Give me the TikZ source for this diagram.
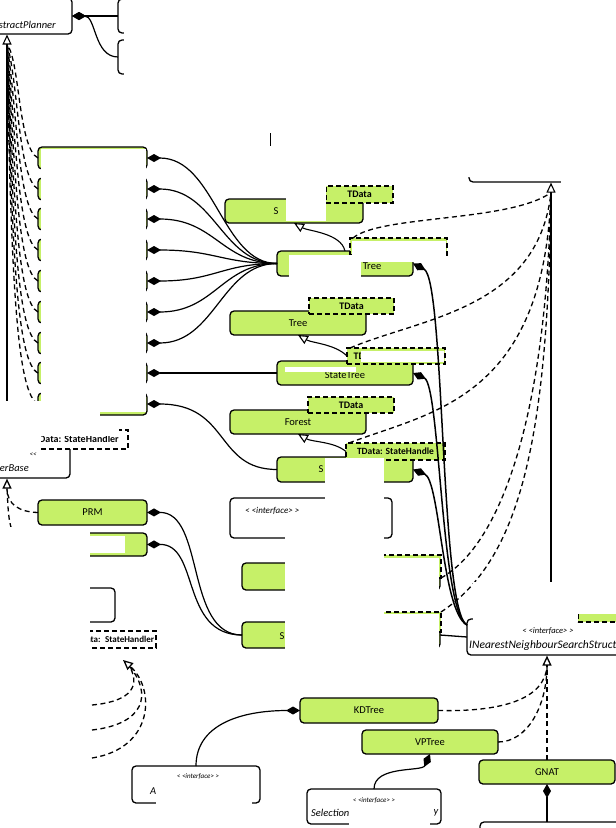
\documentclass[tikz,border=0pt]{standalone}
\usepackage{fontspec}
\setmainfont{Carlito}
\usetikzlibrary{arrows.meta}
\definecolor{G}{RGB}{198,240,104}
\begin{document}
\begin{tikzpicture}[x=1pt,y=-1pt,
 cls/.style={draw,line width=1.3pt,rounded corners=4pt,fill=G,inner sep=0pt,outer sep=0pt,font=\fontsize{10.5}{12}\selectfont},
 tpl/.style={draw,dash pattern=on 5pt off 3pt,line width=1.3pt,fill=G,inner sep=0pt,outer sep=0pt,font=\bfseries\fontsize{10}{11}\selectfont},
 ifc/.style={draw,line width=1.3pt,rounded corners=4pt,fill=white,inner sep=0pt,outer sep=0pt},
 lbl/.style={inner sep=0pt,font=\fontsize{10.5}{12}\selectfont},
 ilbl/.style={inner sep=0pt,font=\itshape\fontsize{10.5}{12}\selectfont},
 ster/.style={inner sep=0pt,font=\itshape\fontsize{7}{8}\selectfont},
 comp/.style={{Diamond[length=14pt,width=8pt]}-,line width=1.2pt},
 gen/.style={-{Triangle[open,length=10pt,width=9pt,fill=white]},line width=1.1pt},
 dep/.style={line width=1.3pt,dash pattern=on 5pt off 3.5pt},
 occl/.style={fill=white,draw=none}]
\fill[white] (0,0) rectangle (616,828);
\useasboundingbox (0,0) rectangle (616,828);

% ---------- coordinates for arrow tips ----------
\coordinate (t1) at (7,34.5);
\coordinate (t1b) at (7,44.5);
\coordinate (t2) at (7,478.6);
\coordinate (t2b) at (7,488.6);
\coordinate (t3) at (551,182.6);
\coordinate (t3b) at (551,192.6);
\coordinate (t4) at (547,655.6);
\coordinate (t4b) at (547,665.6);
\coordinate (t5) at (123,660);
\coordinate (t5b) at (130,667);
\coordinate (h1) at (92,705);
\coordinate (h2) at (92,730);
\coordinate (h3) at (92,758);

% ---------- nodes ----------
\node[ifc,minimum width=102,minimum height=36] (AP) at (21,16) {};
\node[ilbl,anchor=east] (APt) at (56,25) {AbstractPlanner};
\node[ifc,minimum width=142,minimum height=34] (R1) at (189,16) {};
\node[ifc,minimum width=142,minimum height=34] (R2) at (189,57) {};

\foreach \i/\y in {1/158,2/189,3/219,4/250,5/281,6/312,7/343,8/373,9/404}
  \node[cls,minimum width=109,minimum height=22] (C\i) at (92.5,\y) {};

\node[ifc,minimum width=90,minimum height=63] (Base) at (25,446.5) {};
\node[tpl,fill=white,minimum width=103,minimum height=19] (BT) at (76.5,439.5) {TData: StateHandler};
\node[ilbl,anchor=east] (Bname) at (29,468) {PlannerBase};
\node[ster] (Bst) at (33,455) {<{}<};

\node[cls,minimum width=109,minimum height=25] (PRM) at (92.5,512.5) {PRM};
\node[cls,minimum width=109,minimum height=23] (PRM2) at (92.5,544.5) {};
\node[ifc,minimum width=85,minimum height=34] (W1) at (72.5,605) {};
\node[tpl,fill=white,minimum width=96,minimum height=17,font=\bfseries\fontsize{9}{10}\selectfont,text width=92,align=right] (BT2) at (108,639.5) {TData: StateHandler};

\node[cls,minimum width=138,minimum height=24] (A) at (294,211) {};
\node[lbl] (At) at (276,211) {S};
\node[tpl,minimum width=67,minimum height=17] (TA) at (359.5,194.5) {TData};

\node[cls,minimum width=136,minimum height=25] (B) at (345,263.5) {};
\node[lbl] (Bt) at (372,266.5) {Tree};
\node[tpl,minimum width=97,minimum height=17] (TB) at (398.5,246.5) {};

\node[cls,minimum width=136,minimum height=24] (Tree) at (298,323) {Tree};
\node[tpl,minimum width=85,minimum height=16] (TTree) at (351.5,306) {TData};

\node[cls,minimum width=136,minimum height=24] (C) at (345,373) {};
\node[lbl] (Ct) at (345,375) {StateTree};
\node[tpl,minimum width=98,minimum height=16] (TC) at (396,356) {TData: StateHandler};

\node[cls,minimum width=136,minimum height=24] (Forest) at (298,422) {Forest};
\node[tpl,minimum width=86,minimum height=16] (TF) at (351,405) {TData};

\node[cls,minimum width=136,minimum height=25] (D) at (345,469.5) {};
\node[lbl] (Dt) at (321,469.5) {S};
\node[tpl,minimum width=99,minimum height=17,font=\bfseries\fontsize{9.5}{11}\selectfont] (TD) at (395.5,451.5) {TData: StateHandle};

\node[ifc,minimum width=162,minimum height=40] (IF0) at (311,518) {};
\node[ster,font=\itshape\fontsize{9}{10}\selectfont,anchor=west] (IF0s) at (245,511) {< <interface> >};

\node[cls,minimum width=198,minimum height=27] (F) at (341,576.5) {};
\node[tpl,minimum width=58,minimum height=23] (TFt) at (412,566.5) {};
\node[cls,minimum width=198,minimum height=26] (E) at (341,635) {};
\node[lbl] (Et) at (282,636) {S};
\node[tpl,minimum width=58,minimum height=20] (ET) at (412,622) {};

\node[ifc,minimum width=171,minimum height=62] (IT) at (554.5,151) {};
\node[ifc,minimum width=173,minimum height=36] (NN) at (553.5,637) {};
\node[ster,font=\itshape\fontsize{8.5}{9}\selectfont] (NNs) at (548,631) {< <interface> >};
\node[ilbl,font=\itshape\fontsize{11.5}{13}\selectfont,anchor=west] (NNt) at (469,645) {INearestNeighbourSearchStructure};
\node[tpl,minimum width=72,minimum height=20] (NT) at (614,612) {};

\node[cls,minimum width=138,minimum height=25] (KD) at (369,710.5) {KDTree};
\node[cls,minimum width=136,minimum height=24] (VP) at (430,742) {VPTree};
\node[cls,minimum width=136,minimum height=24] (GNAT) at (547,772) {GNAT};
\node[ifc,minimum width=160,minimum height=56] (Bot) at (560,850) {};
\node[ifc,minimum width=128,minimum height=37] (IF1) at (196,784.5) {};
\node[ster] (IF1s) at (198,776) {< <interface> >};
\node[ilbl,anchor=west] (IF1t) at (150,791) {A};
\node[ifc,minimum width=134,minimum height=35] (IF2) at (374,806.5) {};
\node[ster] (IF2s) at (374,800) {< <interface> >};
\node[ilbl,anchor=west] (IF2t) at (311,813) {Selection};
\node[ilbl] (IF2y) at (436,813) {y};

% ---------- connectors (may be covered) ----------
\draw[comp] (AP.east) -- (R1.west);
\draw[comp] (AP.east) .. controls (96,16) and (94,57) .. (R2.west);
\draw[gen] (Base.north -| t1) -- (t1);
\foreach \i/\c/\xx in {1/60/20,2/79/18,3/109/17,4/140/16,5/171/15,6/202/14,7/233/13,8/263/12,9/294/11}
  \draw[dep] (C\i.west) .. controls +(-20,-10) and (\xx,\c) .. (t1b);
\foreach \i/\y in {1/158,2/189,3/219,4/250,5/281,6/312,7/343}
  \draw[comp] (C\i.east) .. controls (215,\y) and (222,263.5) .. (B.west);
\draw[comp] (C8.east) -- (C.west);
\draw[comp] (C9.east) .. controls (230,404) and (215,469.5) .. (D.west);
\draw[gen,dep] (PRM.west) .. controls (20,512) and (7,505) .. (t2);
\draw[dep] (PRM2.west) .. controls (8,544) and (9,525) .. (t2b);
\draw[comp] (PRM.east) .. controls (205,512) and (185,635) .. (E.west);
\draw[comp] (PRM2.east) .. controls (200,544) and (180,635) .. (E.west);
\draw[gen,dep] (h3) .. controls (155,748) and (155,688) .. (t5);
\draw[dep] (h2) .. controls (145,724) and (152,694) .. (t5b);
\draw[dep] (h1) .. controls (125,702) and (142,690) .. (t5b);

\draw[gen] (B.north) .. controls +(-4,-18) and +(14,8) .. (A.south);
\draw[gen] (TC.west) .. controls +(-12,-12) and +(14,8) .. (Tree.south);
\draw[gen] (TD.west) .. controls +(-12,-10) and +(14,8) .. (Forest.south);

\draw[gen] (NN.north -| t3) -- (t3);
\draw[dep] ([xshift=3pt]TB.north west) .. controls (380,215) and (510,222) .. (t3b);
\draw[dep] ([xshift=3pt]TC.north west) .. controls (420,318) and (538,310) .. (t3b);
\draw[dep] ([xshift=3pt]TD.north west) .. controls (430,412) and (544,400) .. (t3b);
\draw[dep] (TFt.south east) .. controls (500,545) and (546,420) .. (t3b);
\draw[dep] (ET.north east) .. controls (520,560) and (548,440) .. (t3b);

\draw[gen,dep] (GNAT.north) -- (t4);
\draw[dep] (KD.east) .. controls (500,712) and (545,700) .. (t4b);
\draw[dep] (VP.east) .. controls (528,742) and (547,705) .. (t4b);
\draw[comp] (KD.west) .. controls (240,710.5) and (196,725) .. (IF1.north);
\draw[comp] (VP.south) .. controls (422,772) and (374,765) .. (IF2.north);
\draw[comp] (GNAT.south) -- (GNAT.south |- Bot.north);
\draw[line width=1pt] (270,133) -- (270,146);

% ---------- white patches ----------
\fill[occl] (124,-5) rectangle (300,80);
\fill[occl] (40.6,149) rectangle (146.3,412);
\fill[occl] (-1,401) rectangle (100,436);
\fill[occl] (100,416.5) rectangle (119,436);
\fill[occl] (-1,436) rectangle (41,450);
\fill[occl] (-1,527) rectangle (89.5,792);
\fill[occl] (89,535.5) rectangle (125,552.5);
\fill[occl] (285.5,170) rectangle (326,221);
\fill[occl] (289,254.5) rectangle (361,280);
\fill[occl] (352,240.7) rectangle (445.6,262);
\fill[occl] (285,366.5) rectangle (356,371.5);
\fill[occl] (361,350.7) rectangle (444.3,361.5);
\fill[occl] (325,457.5) rectangle (383.5,519);
\fill[occl] (285,519) rectangle (383.5,662);
\fill[occl] (384.3,557.5) rectangle (439.3,611);
\fill[occl] (384.3,614.3) rectangle (439.3,660);
\fill[occl] (156,783) rectangle (252,810);
\fill[occl] (349,806) rectangle (430,830);
\fill[occl] (474,90) rectangle (640,181);
\fill[occl] (460,90) rectangle (474,177);
\fill[occl] (561,175) rectangle (640,187);
\fill[occl] (473,582) rectangle (578,620.4);
\fill[occl] (578,582) rectangle (620,614);

% ---------- connectors on top ----------
\draw[comp,line width=1.5pt] (B.east) .. controls (445,280) and (440,612) .. ([yshift=12pt]NN.west);
\draw[comp,line width=1.5pt] (C.east) .. controls (440,385) and (441,612) .. ([yshift=12pt]NN.west);
\draw[comp,line width=1.5pt] (D.east) .. controls (440,480) and (442,612) .. ([yshift=12pt]NN.west);
\draw[line width=1.3pt] (E.east) -- (NN.west);
\end{tikzpicture}
\end{document}
